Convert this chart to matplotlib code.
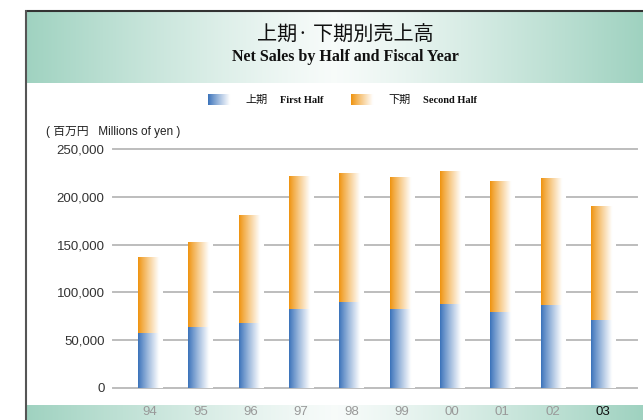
import numpy as np
import matplotlib
matplotlib.use('Agg')
import matplotlib.pyplot as plt
from matplotlib.colors import to_rgb

# ---- data ----
years = ['94', '95', '96', '97', '98', '99', '00', '01', '02', '03']
first_half = [57500, 63800, 68000, 82600, 90000, 82600, 88200, 79500, 86800, 71000]
second_half = [79500, 88900, 113000, 139200, 134900, 138100, 138800, 137000, 132900, 119400]
yticks = [0, 50000, 100000, 150000, 200000, 250000]

title_jp = '上期· 下期別売上高'
title_en = 'Net Sales by Half and Fiscal Year'
legend_jp = ['上期', '下期']
legend_en = ['First Half', 'Second Half']
unit_label = '( 百万円   Millions of yen )'

# ---- style ----
BLUE = '#3a72ba'
ORANGE = '#ef930e'
GREEN = '#9fd2c0'
SANS = ['Liberation Sans', 'DejaVu Sans']
MIXED = ['Liberation Sans', 'Noto Sans CJK JP', 'DejaVu Sans']
CJK = ['Noto Sans CJK JP', 'DejaVu Sans']
SERIF = ['Liberation Serif', 'DejaVu Serif']

W, H = 643, 420
fig = plt.figure(figsize=(W / 100, H / 100), dpi=100)
fig.patch.set_facecolor('white')

bg = fig.add_axes([0, 0, 1, 1])
bg.set_xlim(0, W)
bg.set_ylim(H, 0)
bg.axis('off')


def band(x0, x1, y0, y1, white_at=0.5):
    n = 512
    t = np.linspace(0, 1, n)
    d = np.where(t < white_at, (white_at - t) / white_at, (t - white_at) / (1 - white_at))
    d = np.clip(d, 0, 1) ** 1.2
    g = np.array(to_rgb(GREEN))
    w = np.array([0.97, 0.985, 0.98])
    img = w[None, :] * (1 - d[:, None]) + g[None, :] * d[:, None]
    bg.imshow(img[None, :, :], extent=[x0, x1, y1, y0], aspect='auto',
              interpolation='bilinear', zorder=1)


# header band and bottom band
band(25, W, 11, 83, white_at=0.5)
band(26, W, 405, H, white_at=0.5)
bg.set_xlim(0, W)
bg.set_ylim(H, 0)

# frame lines
bg.plot([25, W], [10.8, 10.8], color='#333333', lw=1.5, zorder=3, solid_capstyle='butt')
bg.plot([25.5, 25.5], [10, H], color='#555555', lw=1.5, zorder=3, solid_capstyle='butt')

# titles
bg.text(345, 35, title_jp, family=CJK, fontsize=14.5, ha='center', va='center',
        color='#111111', zorder=4)
bg.text(345, 57, title_en, family=SERIF, fontsize=11.5, fontweight='bold',
        ha='center', va='center', color='#111111', zorder=4)


def grad_img(color, n=64):
    t = np.linspace(0, 1, n)
    m = np.clip(t / 0.85, 0, 1) ** 0.9
    c = np.array(to_rgb(color))
    img = c[None, :] * (1 - m[:, None]) + np.ones(3)[None, :] * m[:, None]
    return img[None, :, :]


# legend
for (x0, col, jp, en, xj, xe) in [(208, BLUE, legend_jp[0], legend_en[0], 245, 280),
                                  (351, ORANGE, legend_jp[1], legend_en[1], 388, 423)]:
    bg.imshow(grad_img(col), extent=[x0, x0 + 26, 105, 94], aspect='auto',
              interpolation='bilinear', zorder=4)
    bg.text(xj, 100, jp, family=CJK, fontsize=8, ha='left', va='center', color='#111111', zorder=4)
    bg.text(xe, 100.5, en, family=SERIF, fontsize=7.5, fontweight='bold', ha='left',
            va='center', color='#111111', zorder=4)
bg.set_xlim(0, W)
bg.set_ylim(H, 0)

bg.text(46, 132, unit_label, family=MIXED, fontsize=8.5, ha='left', va='center',
        color='#222222', zorder=4)

# ---- main chart ----
ax = fig.add_axes([113 / W, (H - 388) / H, (637 - 113) / W, (388 - 149) / H])
ax.set_zorder(5)
ax.patch.set_alpha(0)
x = np.arange(len(years))
width = 0.477
b1 = ax.bar(x, first_half, width=width, color='none', edgecolor='none', zorder=3)
b2 = ax.bar(x, second_half, width=width, bottom=first_half, color='none', edgecolor='none', zorder=3)
xlim = (-0.735, 9.676)
ylim = (0, 250000)
for bars, col in [(b1, BLUE), (b2, ORANGE)]:
    for p in bars:
        x0, y0, w, h = p.get_x(), p.get_y(), p.get_width(), p.get_height()
        im = ax.imshow(grad_img(col), extent=[x0, x0 + w, y0, y0 + h], aspect='auto',
                       interpolation='bilinear', zorder=3)
        im.set_clip_path(p)
ax.set_xlim(*xlim)
ax.set_ylim(*ylim)

for s in ax.spines.values():
    s.set_visible(False)
ax.set_yticks(yticks)
ax.set_yticklabels([f'{v:,}' for v in yticks], family=SANS, fontsize=9.5, color='#333333')
ax.grid(axis='y', color='#bdbdbd', lw=1.4)
for gl in ax.get_ygridlines():
    gl.set_clip_on(False)
ax.set_axisbelow(True)
ax.tick_params(axis='y', length=0, pad=6)
ax.set_xticks(x)
ax.set_xticklabels(years, family=SANS, fontsize=9.5)
ax.tick_params(axis='x', length=0, pad=13)
for i, lbl in enumerate(ax.get_xticklabels()):
    lbl.set_color('#111111' if i == len(years) - 1 else '#999999')

fig.savefig('out.png', dpi=100)
